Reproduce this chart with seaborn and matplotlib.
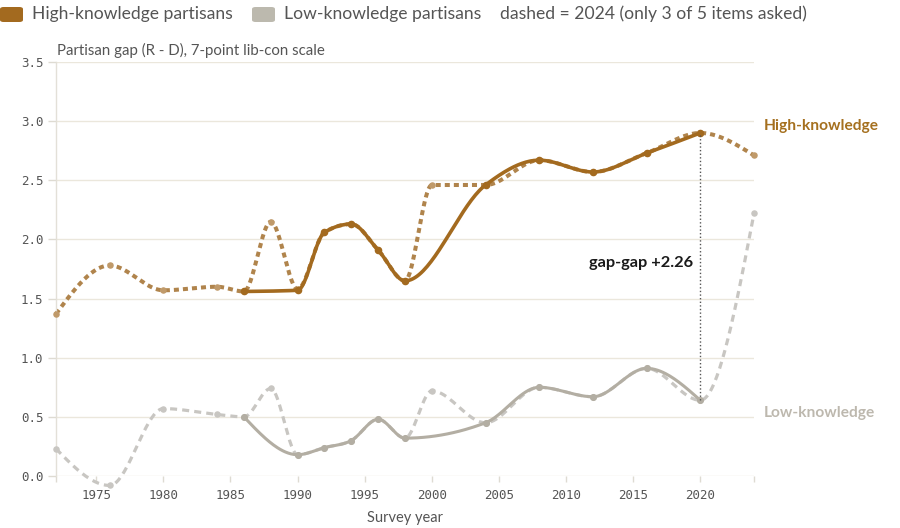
import numpy as np
import pandas as pd
import matplotlib
matplotlib.use("Agg")
import matplotlib.pyplot as plt
import seaborn as sns
from matplotlib.patches import FancyBboxPatch

# ---------------- data ----------------
solid_years = [1986, 1990, 1992, 1994, 1996, 1998, 2004, 2008, 2012, 2016, 2020]
hi_solid = [1.56, 1.57, 2.06, 2.13, 1.91, 1.65, 2.46, 2.67, 2.57, 2.73, 2.90]
lo_solid = [0.50, 0.18, 0.24, 0.30, 0.48, 0.32, 0.45, 0.75, 0.67, 0.91, 0.64]

dash_years = [1972, 1976, 1980, 1984, 1986, 1988, 1990, 1992, 1994, 1996, 1998,
              2000, 2004, 2008, 2012, 2016, 2020, 2024]
hi_dash = [1.37, 1.78, 1.57, 1.60, 1.56, 2.15, 1.58, 2.06, 2.13, 1.91, 1.65,
           2.46, 2.46, 2.67, 2.57, 2.73, 2.90, 2.71]
lo_dash = [0.23, -0.08, 0.57, 0.52, 0.50, 0.74, 0.18, 0.24, 0.30, 0.48, 0.32,
           0.72, 0.45, 0.75, 0.67, 0.91, 0.64, 2.22]

x_ticks = [1975, 1980, 1985, 1990, 1995, 2000, 2005, 2010, 2015, 2020]
y_ticks = [0.0, 0.5, 1.0, 1.5, 2.0, 2.5, 3.0, 3.5]

C_HI = "#a36a1f"
C_HI_D = "#b0844c"
C_LO = "#b3aea3"
C_LO_D = "#c8c6c2"


def monotone_curve(x, y, n=40):
    """d3 curveMonotoneX rendering of the given points."""
    x = np.asarray(x, float)
    y = np.asarray(y, float)
    h = np.diff(x)
    s = np.diff(y) / h
    m = np.zeros_like(y)
    sg = lambda v: -1.0 if v < 0 else 1.0
    for i in range(1, len(x) - 1):
        h0, h1 = h[i - 1], h[i]
        s0, s1 = s[i - 1], s[i]
        p = (s0 * h1 + s1 * h0) / (h0 + h1)
        m[i] = (sg(s0) + sg(s1)) * min(abs(s0), abs(s1), 0.5 * abs(p))
    m[0] = (3 * s[0] - m[1]) / 2
    m[-1] = (3 * s[-1] - m[-2]) / 2
    xs, ys = [], []
    for i in range(len(x) - 1):
        t = np.linspace(0, 1, n, endpoint=(i == len(x) - 2))
        h00 = 2 * t**3 - 3 * t**2 + 1
        h10 = t**3 - 2 * t**2 + t
        h01 = -2 * t**3 + 3 * t**2
        h11 = t**3 - t**2
        xs.append(x[i] + t * h[i])
        ys.append(h00 * y[i] + h10 * h[i] * m[i] + h01 * y[i + 1] + h11 * h[i] * m[i + 1])
    return pd.DataFrame({"year": np.concatenate(xs), "gap": np.concatenate(ys)})


sns.set_theme(style="white")
plt.rcParams["font.family"] = ["Lato", "DejaVu Sans"]

fig = plt.figure(figsize=(9, 5.28), dpi=100)
ax = fig.add_axes([56 / 900, 52 / 528, 698 / 900, 414 / 528])

# gridlines
for v in y_ticks:
    ax.axhline(v, color="#ebe7dc", lw=1.0, zorder=0)

# dashed series (2024 items)
d = monotone_curve(dash_years, lo_dash)
sns.lineplot(data=d, x="year", y="gap", ax=ax, color=C_LO_D, lw=2.3, sort=False,
             estimator=None, clip_on=False, zorder=2)
ax.lines[-1].set_dashes((2.2, 1.6))
d = monotone_curve(dash_years, hi_dash)
sns.lineplot(data=d, x="year", y="gap", ax=ax, color=C_HI_D, lw=2.9, sort=False,
             estimator=None, clip_on=False, zorder=2)
ax.lines[-1].set_dashes((1.25, 1.0))

sns.scatterplot(x=dash_years, y=lo_dash, ax=ax, color=C_LO_D, s=22, linewidth=0,
                zorder=3, clip_on=False)
sns.scatterplot(x=dash_years, y=hi_dash, ax=ax, color="#c09a6a", s=22, linewidth=0,
                zorder=3, clip_on=False)

# solid series
d = monotone_curve(solid_years, lo_solid)
sns.lineplot(data=d, x="year", y="gap", ax=ax, color=C_LO, lw=2.2, sort=False,
             estimator=None, zorder=4)
d = monotone_curve(solid_years, hi_solid)
sns.lineplot(data=d, x="year", y="gap", ax=ax, color=C_HI, lw=2.6, sort=False,
             estimator=None, zorder=5)
sns.scatterplot(x=solid_years, y=lo_solid, ax=ax, color=C_LO, s=26, linewidth=0, zorder=6)
sns.scatterplot(x=solid_years, y=hi_solid, ax=ax, color=C_HI, s=30, linewidth=0, zorder=7)

# gap annotation
ax.vlines(solid_years[-1], lo_solid[-1], hi_solid[-1], colors="#555555", lw=1.0,
          linestyles=(0, (1, 1.6)), zorder=8)
ax.text(solid_years[-1] - 0.55, 1.80, f"gap-gap +{hi_solid[-1] - lo_solid[-1]:.2f}",
        ha="right", va="center", fontsize=11.8, fontweight="bold", color="#1a1a1a")

# end labels
ax.text(2024.75, 2.96, "High-knowledge", ha="left", va="center", fontsize=11.2,
        fontweight="bold", color="#a5701f", clip_on=False)
ax.text(2024.75, 0.53, "Low-knowledge", ha="left", va="center", fontsize=11.2,
        fontweight="bold", color="#bdb8ae", clip_on=False)

# axes
ax.set_xlim(1972, 2024)
ax.set_ylim(0, 3.5)
ax.set_xticks(x_ticks)
ax.set_xticklabels([str(v) for v in x_ticks])
ax.set_xticks([1972, 2024], minor=True)
ax.set_yticks(y_ticks)
ax.set_yticklabels([f"{v:.1f}" for v in y_ticks])
ax.tick_params(axis="both", which="both", labelfontfamily="DejaVu Sans Mono",
               labelsize=9, labelcolor="#555555")
ax.tick_params(axis="x", which="both", length=4.5, width=1, color="#dedbd2", pad=5,
               bottom=True)
ax.tick_params(axis="y", length=6, width=1, color="#dedbd2", pad=3, left=True)
for sp in ["top", "right", "bottom"]:
    ax.spines[sp].set_visible(False)
ax.spines["left"].set_color("#e3e0d8")
ax.spines["left"].set_linewidth(1.0)
ax.set_xlabel("Survey year", fontsize=10.5, color="#555555", labelpad=4)
ax.xaxis.set_label_coords((405 - 56) / 698, -0.085)
ax.set_ylabel("")
ax.set_facecolor("white")

# y title
fig.text(57 / 900, 1 - 50 / 528, "Partisan gap (R - D), 7-point lib-con scale",
         fontsize=10.8, color="#555555", ha="left", va="center")

# legend at top
for x0, col in [(0, C_HI), (252, "#bcb9ae")]:
    fig.patches.append(FancyBboxPatch((x0 / 900, 1 - 22 / 528), 23 / 900, 15 / 528,
                                      boxstyle="round,pad=0,rounding_size=0.004",
                                      transform=fig.transFigure, facecolor=col,
                                      edgecolor="none"))
fig.text(32 / 900, 1 - 14 / 528, "High-knowledge partisans", fontsize=12.6,
         color="#555555", ha="left", va="center")
fig.text(284 / 900, 1 - 14 / 528, "Low-knowledge partisans", fontsize=12.6,
         color="#555555", ha="left", va="center")
fig.text(500 / 900, 1 - 14 / 528, "dashed = 2024 (only 3 of 5 items asked)",
         fontsize=12.6, color="#555555", ha="left", va="center")

fig.savefig("out.png", dpi=100, facecolor="white")
